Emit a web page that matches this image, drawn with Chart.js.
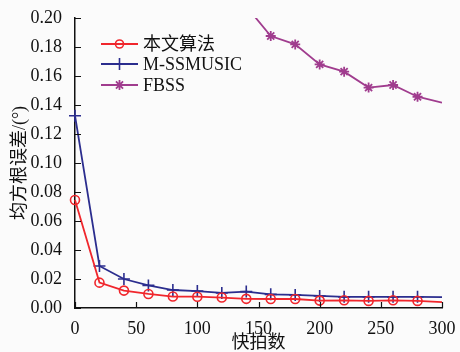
<!DOCTYPE html>
<html>
<head>
<meta charset="utf-8">
<script src="https://cdn.jsdelivr.net/npm/chart.js@4"></script>
<style>
  body { margin: 0; background: #fbfbfb; }
  canvas { display: block; }
</style>
</head>
<body>
<canvas id="chart" width="460" height="352"></canvas>
<script>
// 快拍数
var snapshots = [0, 20, 40, 60, 80, 100, 120, 140, 160, 180, 200, 220, 240, 260, 280, 300];
// 本文算法
var ours = [0.0745, 0.0175, 0.0120, 0.0097, 0.0079, 0.0078, 0.0072, 0.0063, 0.0062, 0.0062, 0.0051, 0.0053, 0.0049, 0.0053, 0.0049, 0.0040];
// M-SSMUSIC
var mss = [0.1326, 0.0290, 0.0200, 0.0156, 0.0124, 0.0117, 0.0104, 0.0113, 0.0094, 0.0090, 0.0083, 0.0077, 0.0077, 0.0077, 0.0077, 0.0075];
// FBSS (los primeros puntos quedan fuera del eje)
var fbss = [null, null, null, null, null, null, null, 0.2080, 0.1876, 0.1818, 0.1680, 0.1630, 0.1520, 0.1538, 0.1457, 0.1416];
var yTicks = [0, 0.02, 0.04, 0.06, 0.08, 0.10, 0.12, 0.14, 0.16, 0.18, 0.20];
var xTicks = [0, 50, 100, 150, 200, 250, 300];

var serif = "'Liberation Serif', 'Noto Sans CJK SC', serif";

function puntos(valores) {
    return snapshots.map(function (s, i) { return { x: s, y: valores[i] }; });
}
// sin marcador en el último punto
function radio(r) {
    return function (ctx) { return ctx.dataIndex === snapshots.length - 1 ? 0 : r; };
}

// leyenda dentro del área del gráfico
var leyenda = {
    id: 'leyenda',
    afterDatasetsDraw: function (chart) {
        var ctx = chart.ctx;
        var x0 = 101, x1 = 138, filas = [44, 64, 85];
        chart.data.datasets.forEach(function (ds, i) {
            var y = filas[i];
            ctx.save();
            ctx.strokeStyle = ds.borderColor;
            ctx.fillStyle = 'rgba(0,0,0,0)';
            ctx.lineWidth = ds.borderWidth;
            ctx.beginPath();
            ctx.moveTo(x0, y);
            ctx.lineTo(x1, y);
            ctx.stroke();
            ctx.lineWidth = ds.pointBorderWidth;
            Chart.helpers.drawPoint(ctx, {
                pointStyle: ds.pointStyle, radius: ds.legendRadius,
                borderWidth: ds.pointBorderWidth, rotation: 0
            }, (x0 + x1) / 2, y);
            ctx.fillStyle = '#111';
            ctx.font = '18px ' + serif;
            ctx.textBaseline = 'middle';
            ctx.fillText(ds.label, 143, y + 1);
            ctx.restore();
        });
    }
};

// marcas de los ejes hacia dentro
var marcas = {
    id: 'marcas',
    afterDraw: function (chart) {
        var ctx = chart.ctx, a = chart.chartArea;
        var sx = chart.scales.x, sy = chart.scales.y;
        ctx.save();
        ctx.strokeStyle = '#111';
        ctx.lineWidth = 1.2;
        ctx.beginPath();
        yTicks.forEach(function (v) {
            var y = Math.round(sy.getPixelForValue(v)) + 0.5;
            ctx.moveTo(a.left, y);
            ctx.lineTo(a.left + 6, y);
        });
        xTicks.forEach(function (v) {
            var x = Math.round(sx.getPixelForValue(v)) + 0.5;
            ctx.moveTo(x, a.bottom);
            ctx.lineTo(x, a.bottom - 6);
        });
        ctx.stroke();
        ctx.restore();
    }
};

var fondo = {
    id: 'fondo',
    beforeDraw: function (chart) {
        var ctx = chart.ctx;
        ctx.save();
        ctx.fillStyle = '#fbfbfb';
        ctx.fillRect(0, 0, chart.width, chart.height);
        ctx.restore();
    }
};

new Chart(document.getElementById('chart').getContext('2d'), {
    type: 'line',
    data: {
        datasets: [{
            label: '本文算法',
            data: puntos(ours),
            borderColor: '#f0262c',
            backgroundColor: 'rgba(0,0,0,0)',
            borderWidth: 1.8,
            clip: 8,
            pointStyle: 'circle',
            pointRadius: radio(4.5),
            legendRadius: 4,
            pointBorderWidth: 1.6,
            pointBackgroundColor: 'rgba(0,0,0,0)'
        }, {
            label: 'M-SSMUSIC',
            data: puntos(mss),
            borderColor: '#2b2d8e',
            backgroundColor: 'rgba(0,0,0,0)',
            borderWidth: 1.8,
            clip: 8,
            pointStyle: 'cross',
            pointRadius: radio(6),
            legendRadius: 6,
            pointBorderWidth: 1.6
        }, {
            label: 'FBSS',
            data: puntos(fbss),
            borderColor: '#a03c8e',
            backgroundColor: '#a03c8e',
            borderWidth: 1.8,
            pointStyle: 'star',
            pointRadius: radio(5),
            legendRadius: 5,
            pointBorderWidth: 1.8
        }]
    },
    options: {
        responsive: false,
        animation: false,
        layout: { padding: { top: 18, right: 18, left: 0, bottom: 0 } },
        plugins: { legend: { display: false }, tooltip: { enabled: false } },
        elements: { line: { tension: 0 } },
        scales: {
            x: {
                type: 'linear',
                min: 0, max: 300,
                afterFit: function (s) { s.height = 44; },
                afterBuildTicks: function (s) { s.ticks = xTicks.map(function (v) { return { value: v }; }); },
                grid: { display: false },
                border: { color: '#111', width: 1.5 },
                ticks: { color: '#111', font: { family: serif, size: 18 }, padding: 2, maxRotation: 0 },
                title: { display: true, text: '快拍数', color: '#111', font: { family: serif, size: 18, lineHeight: 1 }, padding: 0 }
            },
            y: {
                min: 0, max: 0.2,
                afterFit: function (s) { s.width = 75; },
                afterBuildTicks: function (s) { s.ticks = yTicks.map(function (v) { return { value: v }; }); },
                grid: { display: false },
                border: { color: '#111', width: 1.5 },
                ticks: {
                    color: '#111', font: { family: serif, size: 18 }, padding: 5,
                    callback: function (v) { return v.toFixed(2); }
                },
                title: { display: true, text: '均方根误差/(°)', color: '#111', font: { family: serif, size: 18, lineHeight: 1 }, padding: { top: 11 } }
            }
        }
    },
    plugins: [fondo, marcas, leyenda]
});
</script>
</body>
</html>
